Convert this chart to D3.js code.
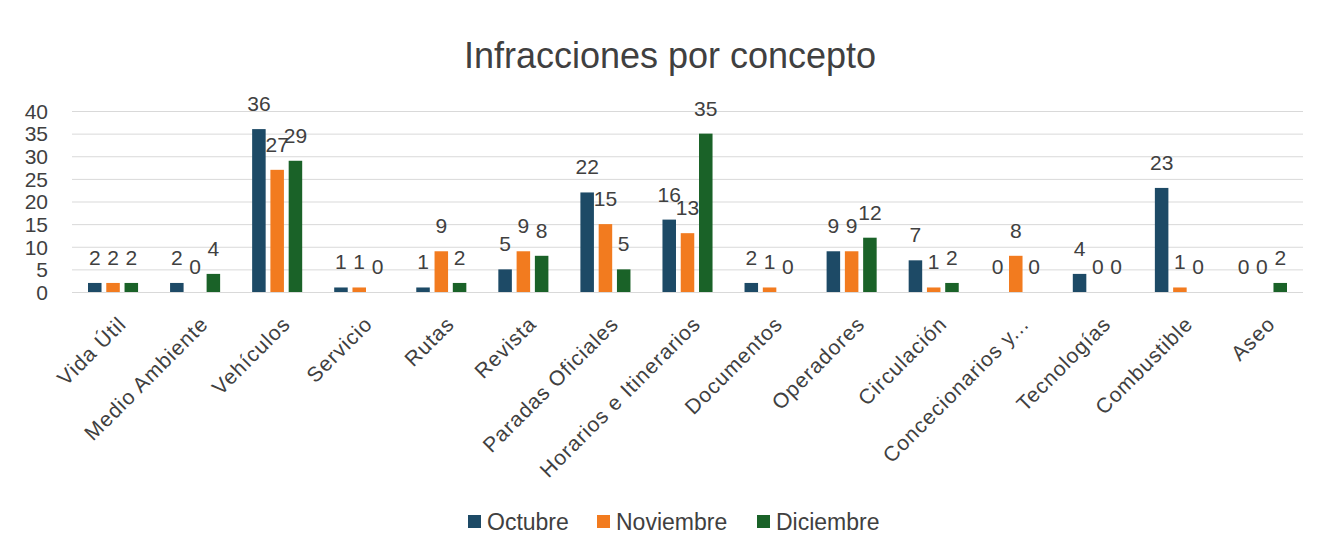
<!DOCTYPE html>
<html lang="es">
<head>
  <meta charset="UTF-8">
  <title>Infracciones por concepto</title>
  <script src="https://d3js.org/d3.v7.min.js"></script>
  <style>
    body { margin: 0; background: #fff; }
    text { font-family: "Liberation Sans", Arial, sans-serif; fill: #404040; }
  </style>
</head>
<body>
  <div id="chart"></div>
  <script>
    const categories = ["Vida Útil", "Medio Ambiente", "Vehículos", "Servicio", "Rutas", "Revista",
      "Paradas Oficiales", "Horarios e Itinerarios", "Documentos", "Operadores", "Circulación",
      "Concecionarios y...", "Tecnologías", "Combustible", "Aseo"];
    const octubre   = [2, 2, 36, 1, 1, 5, 22, 16, 2, 9, 7, 0, 4, 23, 0];
    const noviembre = [2, 0, 27, 1, 9, 9, 15, 13, 1, 9, 1, 8, 0, 1, 0];
    const diciembre = [2, 4, 29, 0, 2, 8, 5, 35, 0, 12, 2, 0, 0, 0, 2];
    const seriesNames = ["Octubre", "Noviembre", "Diciembre"];
    const yTicks = [0, 5, 10, 15, 20, 25, 30, 35, 40];

    const colors = ["#1d4a66", "#f27b1f", "#1a6228"];
    const seriesValues = [octubre, noviembre, diciembre];

    const width = 1332, height = 555;
    const plot = { left: 72, right: 1303, top: 111, bottom: 292 };

    const svg = d3.select("#chart").append("svg")
      .attr("width", width)
      .attr("height", height);

    svg.append("rect").attr("width", width).attr("height", height).attr("fill", "#fff");

    const x0 = d3.scaleBand()
      .domain(categories)
      .range([plot.left, plot.right])
      .paddingInner(0.39)
      .paddingOuter(0.195);

    const x1 = d3.scaleBand()
      .domain(seriesNames)
      .range([0, x0.bandwidth()])
      .paddingInner(0.26);

    const y = d3.scaleLinear()
      .domain([0, 40])
      .range([plot.bottom, plot.top]);

    // gridlines + y labels
    const yAxis = svg.append("g")
      .attr("transform", `translate(${plot.left},0)`)
      .call(d3.axisLeft(y).tickValues(yTicks).tickSize(-(plot.right - plot.left)).tickPadding(24));
    yAxis.select(".domain").remove();
    yAxis.selectAll(".tick line").attr("stroke", "#d9d9d9");
    yAxis.selectAll(".tick text")
      .style("font-size", "21px")
      .attr("fill", "#404040")
      .attr("dy", "0.35em");

    // bars
    const rows = categories.map((c, i) => ({
      cat: c,
      vals: seriesNames.map((s, j) => ({ series: s, idx: j, value: seriesValues[j][i] }))
    }));

    const groups = svg.append("g").selectAll("g")
      .data(rows)
      .join("g")
      .attr("transform", d => `translate(${x0(d.cat)},0)`);

    groups.selectAll("rect")
      .data(d => d.vals)
      .join("rect")
      .attr("x", d => x1(d.series))
      .attr("y", d => y(d.value))
      .attr("width", x1.bandwidth())
      .attr("height", d => y(0) - y(d.value))
      .attr("fill", d => colors[d.idx]);

    groups.selectAll("text.val")
      .data(d => d.vals)
      .join("text")
      .attr("class", "val")
      .attr("x", d => x1(d.series) + x1.bandwidth() / 2)
      .attr("y", d => y(d.value) - 18)
      .attr("text-anchor", "middle")
      .style("font-size", "21px")
      .text(d => d.value);

    // x labels, rotated like the excel ones
    svg.append("g").selectAll("text")
      .data(categories)
      .join("text")
      .attr("transform", d => `translate(${x0(d) + x0.bandwidth() / 2 + 4},${plot.bottom + 23}) rotate(-45)`)
      .attr("text-anchor", "end")
      .attr("dy", "0.7em")
      .style("font-size", "21px")
      .style("letter-spacing", "1px")
      .text(d => d);

    // title
    svg.append("text")
      .attr("x", 670)
      .attr("y", 68)
      .attr("text-anchor", "middle")
      .style("font-size", "36px")
      .text("Infracciones por concepto");

    // legend
    const legendX = [468, 597, 757];
    const legend = svg.append("g").selectAll("g")
      .data(seriesNames)
      .join("g")
      .attr("transform", (d, i) => `translate(${legendX[i]},515)`);
    legend.append("rect")
      .attr("width", 13).attr("height", 13)
      .attr("fill", (d, i) => colors[i]);
    legend.append("text")
      .attr("x", 19)
      .attr("y", 15)
      .style("font-size", "23px")
      .text(d => d);
  </script>
</body>
</html>
